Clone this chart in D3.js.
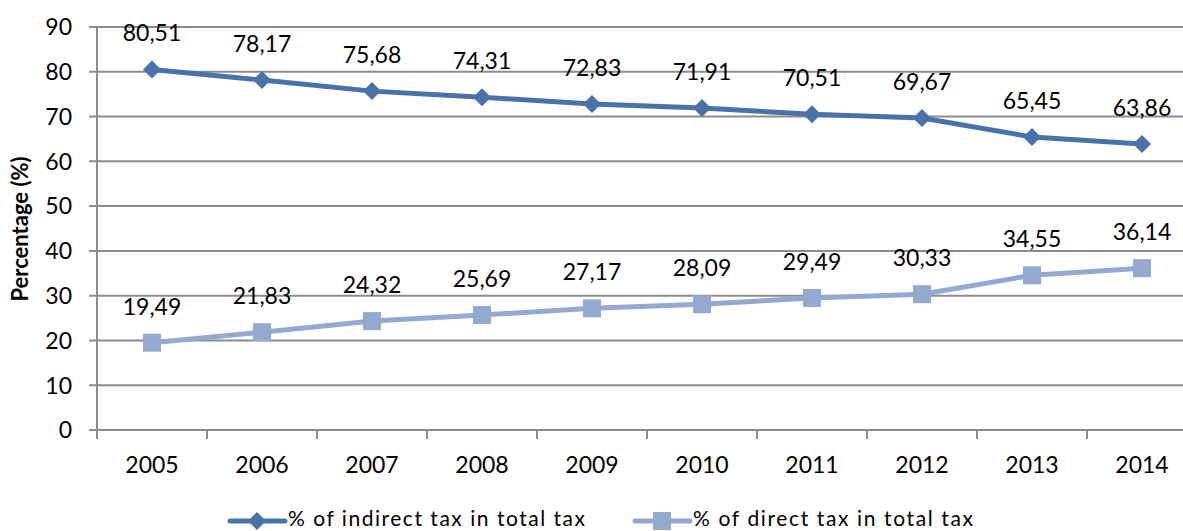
<!DOCTYPE html>
<html><head><meta charset="utf-8">
<script src="https://cdn.jsdelivr.net/npm/d3@7/dist/d3.min.js"></script>
<style>
body{margin:0;background:#fff;}
text{font-family:Lato,"Open Sans",sans-serif;fill:#000;}
</style></head><body>
<svg id="chart" width="1183" height="531"></svg>
<script>
const years = ["2005","2006","2007","2008","2009","2010","2011","2012","2013","2014"];
const indirect = [80.51,78.17,75.68,74.31,72.83,71.91,70.51,69.67,65.45,63.86];
const direct = [19.49,21.83,24.32,25.69,27.17,28.09,29.49,30.33,34.55,36.14];
const yTicks = [0,10,20,30,40,50,60,70,80,90];
const seriesNames = ["% of indirect tax in total tax","% of direct tax in total tax"];
const colors = ["#4A72A8","#93A9D0"];

const svg = d3.select("#chart");
const pLeft = 97, pRight = 1197, pTop = 27, pBottom = 430;
const x = d3.scaleBand().domain(years).range([pLeft,pRight]);
const y = d3.scaleLinear().domain([0,90]).range([pBottom,pTop]);
const fmt = v => v.toFixed(2).replace(".",",");

// gridlines
svg.append("g").selectAll("line").data(yTicks).join("line")
  .attr("x1",pLeft-8).attr("x2",pRight).attr("y1",d=>y(d)).attr("y2",d=>y(d))
  .attr("stroke","#8c8c8c").attr("stroke-width",2);
// y axis line
svg.append("line").attr("x1",pLeft).attr("x2",pLeft).attr("y1",pTop).attr("y2",pBottom)
  .attr("stroke","#8c8c8c").attr("stroke-width",2);
// x ticks
const xt = years.map(d=>x(d)).concat([pRight]);
svg.append("g").selectAll("line").data(xt).join("line")
  .attr("x1",d=>d).attr("x2",d=>d).attr("y1",pBottom).attr("y2",pBottom+9)
  .attr("stroke","#8c8c8c").attr("stroke-width",2);
// y tick labels
svg.append("g").selectAll("text").data(yTicks).join("text")
  .attr("x",72).attr("y",d=>y(d)).attr("dy","0.36em").attr("text-anchor","end")
  .attr("font-size",23).text(d=>d);
// x labels
svg.append("g").selectAll("text").data(years).join("text")
  .attr("x",d=>x(d)+x.bandwidth()/2).attr("y",473).attr("text-anchor","middle")
  .attr("font-size",23).text(d=>d);
// y title
svg.append("text").attr("transform","translate(28,229) rotate(-90)")
  .attr("text-anchor","middle").attr("font-size",22).attr("font-weight","bold")
  .text("Percentage (%)");

const cx = d => x(d)+x.bandwidth()/2;
const line = d3.line().x((d,i)=>cx(years[i])).y(d=>y(d));
[indirect,direct].forEach((vals,si)=>{
  svg.append("path").datum(vals).attr("d",line).attr("fill","none")
    .attr("stroke",colors[si]).attr("stroke-width",5).attr("stroke-linejoin","round");
  const g = svg.append("g");
  if(si===0){
    g.selectAll("path").data(vals).join("path")
      .attr("d","M0,-9L9,0L0,9L-9,0Z").attr("fill",colors[si])
      .attr("transform",(d,i)=>`translate(${cx(years[i])},${y(d)})`);
  } else {
    g.selectAll("rect").data(vals).join("rect")
      .attr("x",(d,i)=>cx(years[i])-9).attr("y",d=>y(d)-9)
      .attr("width",18).attr("height",18).attr("fill",colors[si]);
  }
  svg.append("g").selectAll("text").data(vals).join("text")
    .attr("x",(d,i)=>cx(years[i])).attr("y",d=>y(d)-28).attr("text-anchor","middle")
    .attr("font-size",23).text(fmt);
});

// legend
const legX = [230,635];
const legW = [297,280];
seriesNames.forEach((n,si)=>{
  const g = svg.append("g").attr("transform",`translate(${legX[si]},521)`);
  g.append("line").attr("x1",0).attr("x2",55).attr("stroke",colors[si]).attr("stroke-width",5).attr("stroke-linecap","round");
  if(si===0) g.append("path").attr("d","M27,-9L36,0L27,9L18,0Z").attr("fill",colors[si]);
  else g.append("rect").attr("x",18).attr("y",-9).attr("width",18).attr("height",18).attr("fill",colors[si]);
  g.append("text").attr("x",58).attr("y",5).attr("font-size",21)
    .attr("textLength",legW[si]).attr("lengthAdjust","spacing").text(n);
});
</script></body></html>
